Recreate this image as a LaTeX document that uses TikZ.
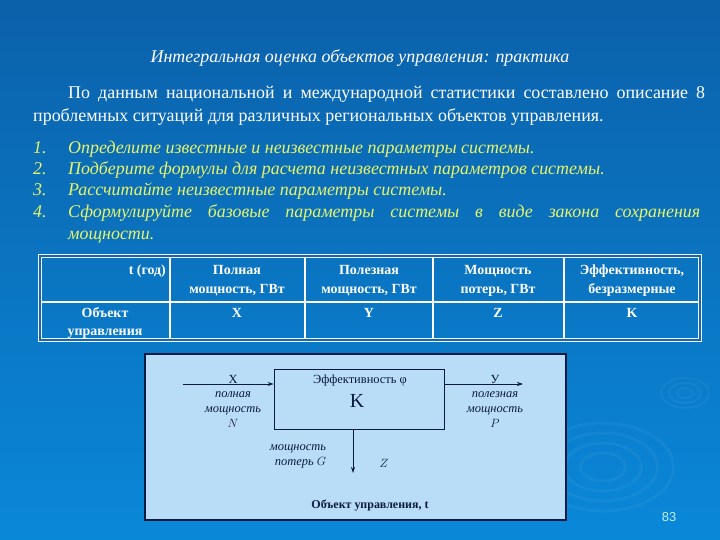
\documentclass[tikz,border=0pt]{standalone}
\usepackage{fontspec}
\setmainfont{Liberation Serif}
\newfontfamily\numfont{Liberation Sans}
\usetikzlibrary{arrows.meta}
\definecolor{bgtop}{HTML}{0B61AA}
\definecolor{bgbot}{HTML}{0A88D8}
\definecolor{listyel}{HTML}{E6F56A}
\definecolor{panel}{HTML}{B9DDF6}
\definecolor{navy}{HTML}{0A1A40}
\definecolor{numcol}{HTML}{BFF0FF}
\tikzset{
  cell/.style={text=white,font=\fontsize{14}{19}\selectfont\bfseries,align=center,inner sep=0pt},
  lbl/.style={text=navy,font=\fontsize{12.5}{15}\selectfont\itshape,align=center,inner sep=0pt},
  item/.style={text=listyel,font=\fontsize{18}{21.3}\selectfont\itshape,anchor=base west,inner sep=0pt},
  flow/.style={-{Stealth[length=6bp,width=4bp]},line width=0.8bp,navy},
}
\begin{document}
\begin{tikzpicture}[x=1bp,y=-1bp]
    \useasboundingbox (0,0) rectangle (720,540);
    \shade[top color=bgtop,bottom color=bgbot] (0,0) rectangle (720,540);
    % ripples
    \foreach \r in {14,24,34,44} {
        \draw[white,opacity=0.045,line width=3bp] (603,467) circle [x radius=1.6*\r, y radius=\r];
    }
    \foreach \r in {5,10,15} {
        \draw[white,opacity=0.05,line width=1.5bp] (685,393) circle [x radius=1.6*\r, y radius=\r];
    }
    % title and text
    \node[text=white,font=\fontsize{18}{20}\selectfont\itshape] (title) at (360,58)
        {Интегральная оценка объектов управления: практика};
    \node[text=white,text width=672bp,align=justify,anchor=base west,inner sep=0pt,
          font=\fontsize{18}{23}\selectfont] (intro) at (33,99)
        {\hspace*{35bp}По данным национальной и международной статистики составлено описание 8\linebreak
         проблемных ситуаций для различных региональных объектов управления.};
    \foreach \n/\y/\t in {1/154/{Определите известные и неизвестные параметры системы.},
                          2/175/{Подберите формулы для расчета неизвестных параметров системы.},
                          3/196/{Рассчитайте неизвестные параметры системы.}} {
        \node[item] (num\n) at (33,\y) {\n.};
        \node[item] (item\n) at (68,\y) {\t};
    }
    \node[item] (num4) at (33,218) {4.};
    \node[item,text width=632bp,align=justify] (item4) at (68,218)
        {Сформулируйте базовые параметры системы в виде закона сохранения\linebreak мощности.};
    % table
    \draw[white,line width=1.2bp] (170,256) -- (170,340) (305,256) -- (305,340)
        (433,256) -- (433,340) (564,256) -- (564,340) (40,302) -- (700,302);
    \draw[white,line width=0.9bp,double=bgtop!70!bgbot,double distance=1.4bp] (40,256) rectangle (700,340);
    \node[cell,anchor=east] (thead) at (166,271) {t (год)};
    \foreach \x/\t [count=\i] in {237/{Полная\\мощность, ГВт},369/{Полезная\\мощность, ГВт},
                                  498/{Мощность\\потерь, ГВт},632/{Эффективность,\\безразмерные}} {
        \node[cell] (h\i) at (\x,281) {\t};
    }
    \node[cell] (rowname) at (105,323) {Объект\\управления};
    \foreach \x/\t [count=\i] in {237/X,369/Y,498/Z,632/K} {
        \node[cell] (v\i) at (\x,313) {\t};
    }
    % block diagram
    \draw[navy,line width=1.3bp,fill=panel] (145,354) rectangle (566,520);
    \node[draw=navy,line width=0.8bp,minimum width=170bp,minimum height=60bp,inner sep=0pt] (obj) at (359,399) {};
    \node[text=navy,font=\fontsize{12.5}{14}\selectfont] (eff) at (360,381) {Эффективность φ};
    \node[text=navy,font=\fontsize{20}{22}\selectfont] (kk) at (357,401) {K};
    \coordinate (nin) at (183,384);
    \coordinate (pout) at (523,384);
    \coordinate (gout) at (353,473);
    \draw[flow] (nin) -- (nin -| obj.west);
    \draw[flow] (pout -| obj.east) -- (pout);
    \draw[flow] (gout |- obj.south) -- (gout);
    \node[lbl,font=\fontsize{12.5}{14}\selectfont,anchor=base] (xin) at (233,383) {X};
    \node[lbl] (nlbl) at (233,410) {полная\\мощность\\$N$};
    \node[lbl,font=\fontsize{12.5}{14}\selectfont,anchor=base] (yout) at (495,383) {У};
    \node[lbl] (plbl) at (495,410) {полезная\\мощность\\$P$};
    \node[lbl,align=right] (glbl) at (298,456) {мощность\\потерь $G$};
    \node[lbl] (zlbl) at (384,463) {$Z$};
    \node[text=navy,font=\fontsize{12}{14}\selectfont\bfseries] (cap) at (370,506) {Объект управления, t};
    \node[text=numcol,font=\numfont\fontsize{13}{15}\selectfont] (pnum) at (669,517) {83};
\end{tikzpicture}
\end{document}
